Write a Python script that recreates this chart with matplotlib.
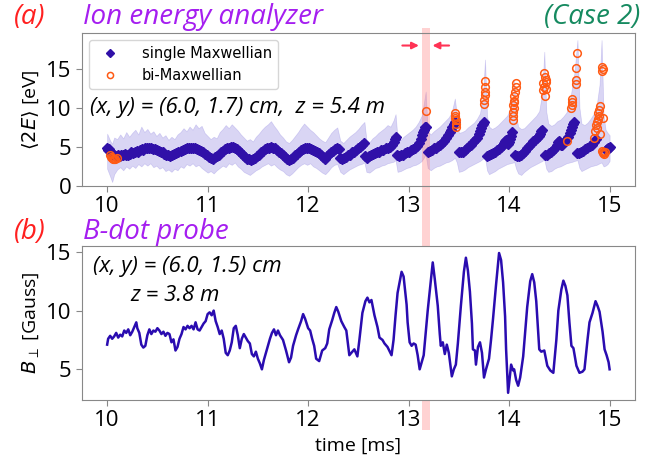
import matplotlib.pyplot as plt

# ---- data: ion energy analyzer, single Maxwellian fits (time [ms], <2E> [eV])
t_single = [10.00, 10.01, 10.02, 10.03, 10.04, 10.06, 10.08, 10.10, 10.11, 10.13,
            10.14, 10.16, 10.18, 10.19, 10.21, 10.23, 10.24, 10.26, 10.28, 10.30,
            10.31, 10.33, 10.35, 10.36, 10.38, 10.40, 10.42, 10.44, 10.46, 10.48,
            10.50, 10.52, 10.54, 10.56, 10.57, 10.59, 10.61, 10.63, 10.65, 10.67,
            10.69, 10.71, 10.73, 10.75, 10.77, 10.79, 10.81, 10.83, 10.85, 10.87,
            10.89, 10.91, 10.93, 10.95, 10.97, 10.99, 11.01, 11.03, 11.05, 11.07,
            11.09, 11.11, 11.13, 11.15, 11.17, 11.19, 11.21, 11.23, 11.25, 11.27,
            11.29, 11.31, 11.33, 11.35, 11.37, 11.39, 11.41, 11.43, 11.45, 11.47,
            11.49, 11.51, 11.53, 11.55, 11.57, 11.59, 11.61, 11.63, 11.65, 11.67,
            11.69, 11.71, 11.73, 11.75, 11.77, 11.79, 11.81, 11.83, 11.85, 11.87,
            11.89, 11.91, 11.93, 11.95, 11.97, 11.99, 12.01, 12.03, 12.05, 12.07,
            12.09, 12.11, 12.13, 12.15, 12.17, 12.19, 12.21, 12.23, 12.25, 12.27,
            12.29, 12.31, 12.32, 12.34, 12.36, 12.38, 12.40, 12.42, 12.44, 12.46,
            12.48, 12.50, 12.52, 12.54, 12.56, 12.57, 12.59, 12.61, 12.63, 12.65,
            12.67, 12.69, 12.71, 12.73, 12.75, 12.77, 12.79, 12.81, 12.83, 12.85,
            12.86, 12.87, 12.88, 12.90, 12.92, 12.94, 12.96, 12.98, 13.00, 13.02,
            13.04, 13.06, 13.08, 13.10, 13.12, 13.13, 13.14, 13.15, 13.16, 13.17,
            13.19, 13.21, 13.23, 13.25, 13.27, 13.29, 13.31, 13.33, 13.35, 13.37,
            13.39, 13.41, 13.42, 13.43, 13.45, 13.46, 13.50, 13.52, 13.54, 13.56,
            13.58, 13.60, 13.62, 13.64, 13.66, 13.68, 13.70, 13.71, 13.72, 13.73,
            13.74, 13.75, 13.78, 13.80, 13.82, 13.84, 13.86, 13.88, 13.90, 13.92,
            13.94, 13.95, 13.96, 13.97, 13.98, 13.99, 14.00, 14.01, 14.02, 14.03,
            14.06, 14.08, 14.10, 14.12, 14.14, 14.16, 14.18, 14.20, 14.22, 14.24,
            14.26, 14.28, 14.30, 14.31, 14.32, 14.33, 14.36, 14.38, 14.40, 14.42,
            14.44, 14.46, 14.48, 14.49, 14.50, 14.51, 14.52, 14.53, 14.55, 14.57,
            14.59, 14.61, 14.62, 14.63, 14.64, 14.65, 14.68, 14.70, 14.72, 14.74,
            14.76, 14.78, 14.80, 14.82, 14.84, 14.86, 14.96, 14.97, 14.98, 14.99,
            15.00]
E_single = [4.8, 4.6, 4.7, 4.5, 4.3, 4.0, 3.8, 3.8, 3.9, 3.8,
            4.0, 3.9, 4.1, 3.9, 4.0, 4.1, 4.3, 4.2, 4.4, 4.5,
            4.4, 4.6, 4.7, 4.6, 4.8, 4.9, 4.8, 4.9, 4.7, 4.7,
            4.6, 4.5, 4.4, 4.3, 4.1, 4.0, 3.9, 3.8, 3.9, 4.1,
            4.2, 4.3, 4.5, 4.6, 4.7, 4.8, 4.8, 4.9, 4.8, 4.9,
            4.7, 4.6, 4.5, 4.3, 4.1, 3.9, 3.7, 3.6, 3.5, 3.7,
            3.8, 4.0, 4.3, 4.5, 4.7, 4.9, 4.9, 5.0, 5.0, 4.9,
            4.7, 4.5, 4.2, 3.9, 3.7, 3.5, 3.4, 3.3, 3.4, 3.6,
            3.8, 4.0, 4.3, 4.5, 4.7, 4.9, 4.9, 5.0, 4.9, 4.8,
            4.6, 4.4, 4.2, 4.0, 3.7, 3.5, 3.3, 3.4, 3.6, 3.9,
            4.1, 4.4, 4.6, 4.7, 4.8, 4.9, 4.8, 4.7, 4.6, 4.5,
            4.3, 4.2, 3.9, 3.7, 3.5, 3.8, 4.1, 4.4, 4.5, 4.7,
            4.8, 4.7, 3.6, 3.4, 3.6, 3.7, 3.9, 4.0, 4.3, 4.4,
            4.6, 4.8, 5.0, 5.2, 5.5, 3.8, 3.6, 3.8, 3.9, 4.1,
            4.2, 4.3, 4.4, 4.6, 4.6, 4.8, 4.9, 5.0, 5.2, 5.6,
            6.0, 6.3, 3.9, 3.8, 4.0, 4.0, 4.2, 4.3, 4.4, 4.6,
            4.7, 4.8, 5.1, 5.5, 6.0, 6.5, 6.9, 7.2, 7.5, 7.6,
            4.4, 4.5, 4.6, 4.8, 4.9, 5.1, 5.3, 5.5, 5.8, 6.1,
            6.5, 6.9, 7.2, 7.6, 8.0, 8.2, 4.3, 4.4, 4.4, 4.6,
            4.9, 5.1, 5.3, 5.6, 5.9, 6.2, 6.7, 7.0, 7.4, 7.8,
            8.0, 8.2, 3.8, 3.9, 4.1, 4.2, 4.4, 4.6, 4.7, 5.0,
            5.3, 5.5, 5.7, 5.9, 5.6, 5.4, 5.6, 6.0, 6.4, 6.9,
            3.9, 3.8, 3.8, 4.0, 4.2, 4.5, 4.8, 5.1, 5.4, 5.7,
            5.9, 6.1, 6.4, 6.7, 7.0, 7.2, 3.9, 4.0, 4.2, 4.3,
            4.6, 4.9, 5.3, 5.6, 5.7, 5.4, 5.2, 5.3, 5.6, 5.9,
            6.3, 6.8, 7.2, 7.6, 8.0, 8.2, 4.2, 4.2, 4.4, 4.5,
            4.7, 4.9, 5.1, 5.3, 5.6, 6.0, 4.6, 4.7, 4.8, 4.9,
            5.0]

# bi-Maxwellian fits
t_bi = [10.03, 10.04, 10.05, 10.06, 10.07, 10.08, 10.10, 13.17,
        13.46, 13.46, 13.46, 13.47, 13.47, 13.47,
        13.76, 13.76, 13.76, 13.76, 13.75, 13.75,
        14.07, 14.07, 14.06, 14.05, 14.05, 14.05, 14.04, 14.05, 14.04, 14.04, 14.04,
        14.35, 14.36, 14.37, 14.34, 14.37, 14.35, 14.34, 14.37, 14.36,
        14.63, 14.63, 14.63, 14.62, 14.58,
        14.68, 14.67, 14.67, 14.67,
        14.92, 14.93, 14.92, 14.90, 14.89, 14.88, 14.89, 14.88, 14.93, 14.87,
        14.86, 14.87, 14.85, 14.90, 14.84, 14.93, 14.94, 14.93, 14.92, 14.95]
E_bi = [3.9, 3.7, 3.6, 3.5, 3.4, 3.5, 3.6, 9.6,
        9.3, 9.0, 8.7, 8.4, 8.0, 7.6,
        13.4, 12.7, 12.1, 11.6, 11.0, 10.5,
        13.2, 12.7, 12.1, 11.5, 10.9, 10.7, 10.4, 10.0, 9.5, 9.0, 8.5,
        14.5, 14.0, 13.6, 13.2, 13.3, 12.7, 12.3, 12.4, 11.5,
        11.2, 10.8, 10.4, 10.0, 5.7,
        17.1, 15.1, 13.6, 13.1,
        15.3, 15.0, 14.7, 10.2, 9.7, 9.4, 9.0, 8.6, 8.7, 8.2,
        7.8, 7.4, 7.0, 6.7, 6.2, 4.4, 4.1, 4.2, 4.5, 4.3]

# spread of the analyzer fits
t_band = [10.00, 10.03, 10.05, 10.07, 10.10, 10.13, 10.16, 10.19, 10.22, 10.25,
          10.28, 10.31, 10.34, 10.37, 10.40, 10.43, 10.46, 10.49, 10.52, 10.55,
          10.58, 10.61, 10.64, 10.67, 10.70, 10.73, 10.76, 10.79, 10.82, 10.85,
          10.88, 10.91, 10.94, 10.97, 11.00, 11.03, 11.06, 11.09, 11.12, 11.15,
          11.18, 11.21, 11.24, 11.27, 11.30, 11.33, 11.36, 11.39, 11.42, 11.45,
          11.48, 11.51, 11.54, 11.57, 11.60, 11.63, 11.66, 11.69, 11.72, 11.75,
          11.78, 11.81, 11.84, 11.87, 11.90, 11.93, 11.96, 11.99, 12.02, 12.05,
          12.08, 12.11, 12.14, 12.17, 12.20, 12.23, 12.26, 12.29, 12.32, 12.35,
          12.38, 12.41, 12.44, 12.47, 12.50, 12.53, 12.56, 12.58, 12.61, 12.64,
          12.67, 12.70, 12.73, 12.76, 12.79, 12.82, 12.85, 12.87, 12.89, 12.92,
          12.95, 12.98, 13.01, 13.04, 13.07, 13.10, 13.13, 13.15, 13.17, 13.19,
          13.22, 13.25, 13.28, 13.31, 13.34, 13.37, 13.40, 13.43, 13.46, 13.48,
          13.50, 13.53, 13.56, 13.59, 13.62, 13.65, 13.68, 13.71, 13.74, 13.76,
          13.78, 13.80, 13.83, 13.86, 13.89, 13.92, 13.95, 13.98, 14.01, 14.04,
          14.05, 14.07, 14.09, 14.12, 14.15, 14.18, 14.21, 14.24, 14.27, 14.30,
          14.33, 14.35, 14.37, 14.39, 14.42, 14.45, 14.48, 14.51, 14.54, 14.57,
          14.60, 14.63, 14.65, 14.68, 14.70, 14.72, 14.75, 14.78, 14.81, 14.84,
          14.87, 14.90, 14.92, 14.94, 14.96, 14.98, 15.00]
band_lo = [2.2, 1.2, 0.5, 1.5, 2.1, 2.4, 2.0, 2.5, 2.2, 2.6,
           2.3, 2.8, 2.5, 2.9, 2.6, 2.9, 2.4, 2.6, 2.2, 2.4,
           1.9, 2.1, 1.8, 2.2, 2.0, 2.5, 2.3, 2.8, 2.6, 2.9,
           2.5, 2.7, 2.3, 2.0, 1.7, 1.9, 1.6, 2.0, 2.3, 2.6,
           2.4, 2.9, 2.7, 3.0, 2.5, 2.2, 1.8, 1.6, 1.4, 1.7,
           2.0, 2.2, 2.5, 2.7, 2.9, 2.6, 2.8, 2.4, 2.1, 1.9,
           1.5, 1.3, 1.6, 2.0, 2.4, 2.7, 2.9, 2.7, 2.9, 2.5,
           2.3, 2.0, 1.7, 1.5, 1.9, 2.4, 2.7, 2.8, 1.8, 1.5,
           1.8, 2.1, 2.3, 2.5, 2.7, 2.8, 3.0, 1.8, 1.7, 2.0,
           2.3, 2.4, 2.6, 2.7, 2.9, 3.0, 3.1, 3.3, 1.8, 1.9,
           2.1, 2.3, 2.4, 2.6, 2.7, 2.9, 3.2, 3.6, 4.0, 2.3,
           2.0, 2.3, 2.5, 2.6, 2.8, 3.0, 3.1, 3.3, 3.6, 3.0,
           1.8, 1.9, 2.1, 2.4, 2.6, 2.8, 3.0, 3.2, 3.5, 3.7,
           2.0, 1.5, 1.7, 1.9, 2.2, 2.4, 2.6, 2.8, 2.9, 3.0,
           3.1, 2.2, 1.6, 1.4, 1.8, 2.1, 2.4, 2.6, 2.8, 3.0,
           3.2, 3.4, 2.2, 1.8, 1.9, 2.2, 2.4, 2.5, 2.7, 2.9,
           3.0, 3.1, 3.2, 3.3, 2.3, 1.9, 2.1, 2.3, 2.5, 2.6,
           2.7, 2.9, 3.0, 2.5, 2.6, 2.8, 3.2]
band_hi = [6.7, 5.8, 5.4, 6.2, 6.0, 6.6, 6.1, 6.9, 6.3, 6.8,
           7.2, 6.6, 7.6, 6.9, 7.3, 6.7, 7.0, 6.4, 6.8, 6.2,
           6.5, 5.9, 6.3, 6.0, 6.6, 6.9, 7.4, 7.0, 7.6, 7.2,
           7.9, 7.4, 7.7, 6.8, 6.4, 6.0, 6.3, 6.1, 6.9, 7.3,
           7.8, 7.4, 7.9, 7.5, 7.1, 6.6, 6.2, 5.8, 6.0, 5.7,
           6.3, 6.7, 7.2, 7.6, 7.9, 8.3, 7.7, 7.2, 6.6, 6.2,
           5.7, 5.5, 5.9, 6.4, 6.9, 7.5, 8.0, 7.6, 7.2, 6.9,
           6.5, 6.1, 5.8, 5.6, 6.2, 6.8, 7.2, 7.5, 5.8, 5.5,
           5.9, 6.3, 6.6, 6.9, 7.3, 7.8, 8.2, 5.9, 5.6, 6.1,
           6.4, 6.8, 7.1, 7.4, 7.8, 7.6, 8.4, 9.2, 6.0, 5.9,
           6.3, 6.6, 6.9, 7.2, 7.6, 8.2, 9.0, 10.5, 12.1, 7.0,
           6.6, 7.0, 7.3, 7.6, 8.0, 8.4, 8.8, 9.5, 11.2, 9.0,
           6.8, 6.9, 7.1, 7.5, 7.8, 8.1, 8.6, 9.3, 11.5, 16.2,
           9.0, 7.6, 7.3, 7.5, 7.8, 8.2, 8.6, 9.0, 9.8, 11.5,
           13.6, 9.0, 7.6, 7.3, 7.4, 7.8, 8.2, 8.6, 9.0, 9.6,
           12.0, 17.2, 9.5, 8.0, 7.7, 7.9, 8.3, 8.5, 8.9, 9.4,
           10.5, 12.9, 14.5, 18.7, 10.0, 8.0, 7.8, 8.1, 8.6, 9.2,
           10.2, 13.0, 18.7, 9.0, 7.2, 6.8, 6.5]

# ---- data: B-dot probe (time [ms], B_perp [Gauss])
t_b = [10.00, 10.01, 10.03, 10.05, 10.07, 10.09, 10.11, 10.13, 10.15, 10.17,
       10.19, 10.21, 10.23, 10.25, 10.27, 10.29, 10.30, 10.32, 10.34, 10.36,
       10.38, 10.40, 10.42, 10.44, 10.46, 10.48, 10.50, 10.52, 10.54, 10.56,
       10.58, 10.60, 10.62, 10.64, 10.66, 10.68, 10.70, 10.72, 10.74, 10.76,
       10.78, 10.80, 10.82, 10.84, 10.86, 10.88, 10.90, 10.92, 10.94, 10.96,
       10.98, 11.00, 11.02, 11.04, 11.06, 11.08, 11.10, 11.12, 11.14, 11.16,
       11.18, 11.20, 11.22, 11.24, 11.26, 11.28, 11.30, 11.32, 11.34, 11.36,
       11.38, 11.40, 11.42, 11.44, 11.46, 11.48, 11.50, 11.52, 11.54, 11.56,
       11.58, 11.60, 11.62, 11.64, 11.66, 11.68, 11.70, 11.72, 11.75, 11.78,
       11.81, 11.83, 11.85, 11.88, 11.90, 11.93, 11.95, 11.97, 12.00, 12.02,
       12.04, 12.06, 12.08, 12.11, 12.14, 12.17, 12.19, 12.21, 12.24, 12.26,
       12.28, 12.30, 12.33, 12.36, 12.38, 12.41, 12.43, 12.46, 12.49, 12.51,
       12.54, 12.57, 12.59, 12.61, 12.63, 12.66, 12.69, 12.71, 12.74, 12.76,
       12.79, 12.83, 12.85, 12.87, 12.89, 12.91, 12.93, 12.95, 12.96, 12.98,
       12.99, 13.01, 13.03, 13.05, 13.07, 13.09, 13.11, 13.13, 13.15, 13.17,
       13.19, 13.22, 13.24, 13.26, 13.29, 13.31, 13.32, 13.34, 13.36, 13.38,
       13.40, 13.43, 13.45, 13.47, 13.49, 13.52, 13.55, 13.57, 13.59, 13.61,
       13.63, 13.64, 13.66, 13.67, 13.69, 13.71, 13.73, 13.75, 13.77, 13.80,
       13.82, 13.84, 13.87, 13.90, 13.92, 13.94, 13.96, 13.97, 13.99, 14.00,
       14.02, 14.04, 14.05, 14.07, 14.09, 14.11, 14.14, 14.16, 14.18, 14.21,
       14.23, 14.25, 14.27, 14.30, 14.32, 14.35, 14.38, 14.41, 14.44, 14.47,
       14.49, 14.52, 14.54, 14.56, 14.58, 14.60, 14.62, 14.64, 14.67, 14.70,
       14.73, 14.75, 14.78, 14.80, 14.83, 14.86, 14.88, 14.90, 14.93, 14.95,
       14.97, 14.99, 15.00]
B_perp = [7.1, 7.6, 7.85, 7.6, 7.8, 8.1, 7.7, 7.95, 7.8, 8.3,
          8.1, 8.4, 7.9, 8.2, 8.6, 9.0, 8.5, 8.1, 7.1, 6.85,
          7.0, 7.9, 8.4, 8.0, 8.3, 8.2, 8.5, 8.3, 8.0, 8.2,
          7.85, 8.1, 8.0, 7.3, 7.55, 6.6, 6.9, 7.6, 8.0, 8.6,
          8.4, 8.7, 8.5, 8.7, 8.4, 9.0, 8.4, 8.3, 8.6, 8.9,
          9.1, 9.7, 9.85, 9.6, 10.0, 9.1, 8.6, 8.0, 8.3, 7.6,
          6.4, 6.2, 6.6, 7.3, 8.5, 8.7, 7.9, 6.8, 7.6, 8.0,
          7.7, 7.4, 7.2, 6.3, 6.1, 6.5, 5.9, 5.5, 5.0, 5.8,
          6.4, 7.0, 7.6, 8.1, 8.4, 7.9, 8.3, 7.9, 7.5, 6.6,
          5.6, 6.0, 7.0, 7.9, 8.4, 9.1, 9.7, 9.3, 8.5, 8.3,
          7.6, 7.0, 5.9, 5.7, 6.6, 6.8, 7.2, 8.4, 9.2, 9.8,
          10.3, 9.9, 9.1, 8.6, 8.3, 6.2, 6.4, 6.7, 6.1, 7.5,
          9.8, 10.8, 11.1, 10.7, 10.9, 9.6, 8.6, 7.7, 7.5, 7.2,
          6.9, 6.2, 7.5, 9.6, 11.5, 12.4, 13.3, 12.9, 12.1, 10.5,
          9.0, 7.3, 7.0, 7.2, 7.1, 6.2, 5.0, 5.6, 6.2, 8.1,
          10.0, 12.5, 14.1, 12.7, 10.4, 8.0, 7.0, 7.3, 6.3, 7.1,
          6.4, 4.4, 5.0, 5.4, 7.2, 10.4, 13.3, 14.5, 13.4, 11.6,
          8.9, 6.7, 6.6, 5.4, 6.9, 7.3, 6.4, 4.3, 5.0, 5.9,
          7.5, 9.3, 12.2, 14.9, 14.3, 12.4, 9.5, 6.7, 3.0, 3.8,
          5.4, 4.9, 5.0, 4.1, 3.6, 4.3, 6.1, 8.2, 10.3, 12.5,
          13.1, 12.4, 10.8, 6.7, 6.5, 6.6, 5.3, 4.9, 4.7, 7.5,
          10.0, 11.8, 12.55, 12.1, 11.3, 9.0, 7.0, 6.8, 5.3, 4.7,
          4.8, 5.0, 7.5, 9.0, 9.8, 10.8, 10.4, 9.9, 8.2, 6.7,
          6.2, 5.6, 5.0]

t_window = [13.13, 13.21]

plt.rcParams['font.family'] = ['Open Sans', 'DejaVu Sans']

fig = plt.figure(figsize=(6.51, 4.59), dpi=100)
ax1 = fig.add_axes([0.126, 0.595, 0.849, 0.333])
ax2 = fig.add_axes([0.126, 0.129, 0.849, 0.335])

for ax in (ax1, ax2):
    for s in ax.spines.values():
        s.set_color('#888888')
    ax.tick_params(labelsize=16, color='#888888', length=4)

# top panel
ax1.fill_between(t_band, band_lo, band_hi, color='#8c80e0', alpha=0.33, linewidth=0.5)
ax1.plot(t_single, E_single, 'D', color='#3010a8', markersize=4.6, label='single Maxwellian')
ax1.plot(t_bi, E_bi, 'o', markerfacecolor='none', markeredgecolor='#ff5a14',
         markersize=5.5, markeredgewidth=1.1, label='bi-Maxwellian')
ax1.set_xlim(9.75, 15.25)
ax1.set_ylim(0, 19.6)
ax1.set_yticks([0, 5, 10, 15])
ax1.set_xticks([10, 11, 12, 13, 14, 15])
ax1.set_ylabel(r'$\langle 2E\rangle$ [eV]', fontsize=14)
ax1.legend(loc='upper left', prop={'family': 'DejaVu Sans', 'size': 10.5},
           borderpad=0.4, handletextpad=1.2, markerscale=0.8)
ax1.text(9.83, 10.0, '(x, y) = (6.0, 1.7) cm,  z = 5.4 m', fontsize=16,
         style='italic', va='center', ha='left')

# window marker spanning both panels
ax1.axvspan(t_window[0], t_window[1], ymin=-1.6, ymax=1.03, color='#ff8080',
            alpha=0.35, linewidth=0, clip_on=False)
ax1.annotate('', xy=(t_window[0], 18.0), xytext=(12.91, 18.0),
             arrowprops=dict(arrowstyle='-|>', color='#ff3355', lw=1.5), annotation_clip=False)
ax1.annotate('', xy=(t_window[1], 18.0), xytext=(13.43, 18.0),
             arrowprops=dict(arrowstyle='-|>', color='#ff3355', lw=1.5), annotation_clip=False)

# bottom panel
ax2.plot(t_b, B_perp, color='#2a0cb0', linewidth=1.8)
ax2.set_xlim(9.75, 15.25)
ax2.set_yticks([5, 10, 15])
ax2.set_xticks([10, 11, 12, 13, 14, 15])
ax2.set_ylabel(r'$B_\perp$ [Gauss]', fontsize=14)
ax2.set_xlabel('time [ms]', fontsize=14)
ax2.text(0.02, 0.87, '(x, y) = (6.0, 1.5) cm', transform=ax2.transAxes, fontsize=16,
         style='italic', va='center')
ax2.text(0.087, 0.68, 'z = 3.8 m', transform=ax2.transAxes, fontsize=16,
         style='italic', va='center')

# panel titles
fig.text(0.022, 0.962, '(a)', color='#ff2020', fontsize=20, style='italic', va='center')
fig.text(0.128, 0.962, 'Ion energy analyzer', color='#a51ef0', fontsize=20, style='italic', va='center')
fig.text(0.984, 0.962, '(Case 2)', color='#168a60', fontsize=20, style='italic', va='center', ha='right')
fig.text(0.022, 0.495, '(b)', color='#ff2020', fontsize=20, style='italic', va='center')
fig.text(0.128, 0.495, 'B-dot probe', color='#a51ef0', fontsize=20, style='italic', va='center')

fig.savefig('out.png', dpi=100)
